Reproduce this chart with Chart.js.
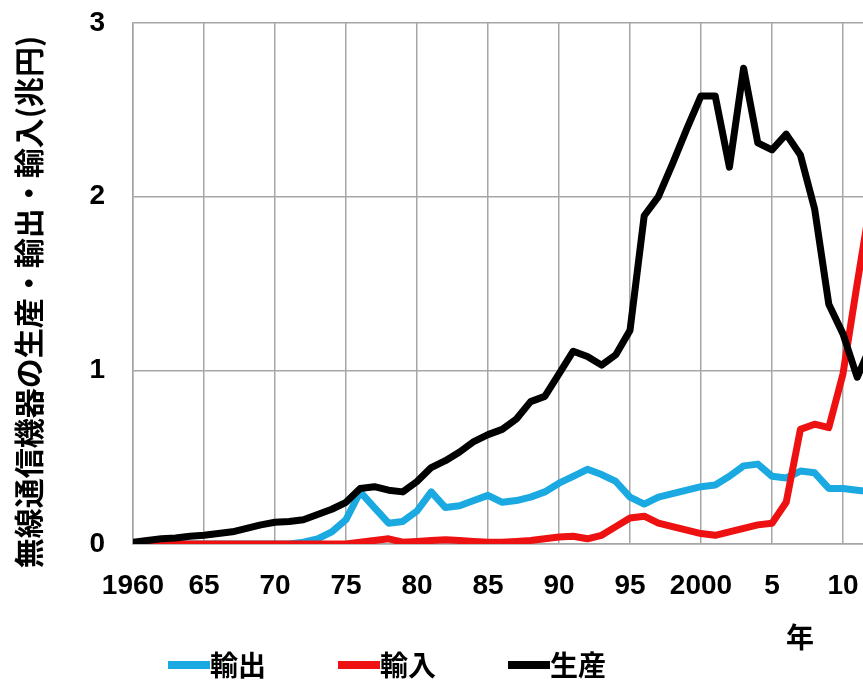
<!DOCTYPE html>
<html lang="ja">
<head>
<meta charset="utf-8">
<title>無線通信機器の生産・輸出・輸入</title>
<script src="https://cdn.jsdelivr.net/npm/chart.js@4/dist/chart.umd.min.js"></script>
<style>
  html, body { margin: 0; padding: 0; background: #fff; overflow: hidden; }
  #wrap { width: 863px; height: 681px; overflow: hidden; }
</style>
</head>
<body>
<div id="wrap"><canvas id="chart" width="934" height="681"></canvas></div>
<script>
// years on the x axis
const years = [
  1960, 1961, 1962, 1963, 1964, 1965, 1966, 1967, 1968, 1969,
  1970, 1971, 1972, 1973, 1974, 1975, 1976, 1977, 1978, 1979,
  1980, 1981, 1982, 1983, 1984, 1985, 1986, 1987, 1988, 1989,
  1990, 1991, 1992, 1993, 1994, 1995, 1996, 1997, 1998, 1999,
  2000, 2001, 2002, 2003, 2004, 2005, 2006, 2007, 2008, 2009,
  2010, 2011, 2012
];

// 輸出 (兆円)
const exportVals = [
  0, 0, 0, 0, 0, 0, 0, 0, 0, 0,
  0, 0, 0.01, 0.03, 0.07, 0.14, 0.30, 0.21, 0.12, 0.13,
  0.19, 0.30, 0.21, 0.22, 0.25, 0.28, 0.24, 0.25, 0.27, 0.30,
  0.35, 0.39, 0.43, 0.40, 0.36, 0.27, 0.23, 0.27, 0.29, 0.31,
  0.33, 0.34, 0.39, 0.45, 0.46, 0.39, 0.38, 0.42, 0.41, 0.32,
  0.32, 0.31, 0.30
];

// 輸入 (兆円)
const importVals = [
  0, 0, 0, 0, 0, 0, 0, 0, 0, 0,
  0, 0, 0, 0, 0, 0, 0.01, 0.02, 0.03, 0.01,
  0.015, 0.02, 0.025, 0.02, 0.015, 0.01, 0.01, 0.015, 0.02, 0.03,
  0.04, 0.045, 0.03, 0.05, 0.10, 0.15, 0.16, 0.12, 0.10, 0.08,
  0.06, 0.05, 0.07, 0.09, 0.11, 0.12, 0.24, 0.66, 0.69, 0.67,
  0.98, 1.50, 2.00
];

// 生産 (兆円)
const productionVals = [
  0.01, 0.02, 0.03, 0.035, 0.045, 0.05, 0.06, 0.07, 0.09, 0.11,
  0.125, 0.13, 0.14, 0.17, 0.20, 0.24, 0.32, 0.33, 0.31, 0.30,
  0.36, 0.44, 0.48, 0.53, 0.59, 0.63, 0.66, 0.72, 0.82, 0.85,
  0.98, 1.11, 1.08, 1.03, 1.09, 1.23, 1.89, 2.00, 2.19, 2.39,
  2.58, 2.58, 2.17, 2.74, 2.31, 2.27, 2.36, 2.24, 1.93, 1.38,
  1.21, 0.96, 1.15
];

// x tick positions and their labels
const xTickYears = [1960, 1965, 1970, 1975, 1980, 1985, 1990, 1995, 2000, 2005, 2010, 2015];
const xTickLabels = ['1960', '65', '70', '75', '80', '85', '90', '95', '2000', '5', '10', '15'];
const yTicks = [0, 1, 2, 3];

const yTitle = '無線通信機器の生産・輸出・輸入(兆円)';
const xTitle = '年';

const fontFamily = "'Liberation Sans', 'Noto Sans CJK JP', sans-serif";
const jpFont = "'Noto Sans CJK JP', sans-serif";
const gridColor = '#a6a6a6';

const toPoints = vals => vals.map((v, i) => ({ x: years[i], y: v }));

// axis titles and legend drawn straight onto the canvas
const extraText = {
  id: 'extraText',
  afterDraw(chart) {
    const ctx = chart.ctx;
    ctx.save();
    ctx.fillStyle = '#000';
    ctx.textBaseline = 'middle';
    ctx.textAlign = 'center';

    ctx.font = 'bold 28px ' + jpFont;
    ctx.fillText(xTitle, 800, 637);

    ctx.save();
    ctx.translate(29, 302);
    ctx.rotate(-Math.PI / 2);
    ctx.font = 'bold 30px ' + jpFont;
    ctx.fillText(yTitle, 0, 0);
    ctx.restore();

    let x = 168;
    chart.data.datasets.forEach(ds => {
      ctx.fillStyle = ds.borderColor;
      ctx.fillRect(x, 661, 42, 8);
      ctx.fillStyle = '#000';
      ctx.textAlign = 'left';
      ctx.fillText(ds.label, x + 42, 665);
      x += 170;
    });
    ctx.restore();
  }
};

new Chart(document.getElementById('chart'), {
  type: 'line',
  data: {
    datasets: [
      { label: '輸出', data: toPoints(exportVals), borderColor: '#1ba9e1', order: 3 },
      { label: '輸入', data: toPoints(importVals), borderColor: '#ee1111', order: 2 },
      { label: '生産', data: toPoints(productionVals), borderColor: '#000000', order: 1 }
    ]
  },
  options: {
    responsive: false,
    animation: false,
    layout: { padding: { top: 23, right: 20, left: 0, bottom: 0 } },
    elements: {
      point: { radius: 0 },
      line: { borderWidth: 7, tension: 0, borderJoinStyle: 'round', fill: false }
    },
    plugins: {
      legend: { display: false },
      tooltip: { enabled: false }
    },
    scales: {
      x: {
        type: 'linear',
        min: 1960,
        max: 2015,
        afterFit: s => { s.height = 137; },
        afterBuildTicks: s => { s.ticks = xTickYears.map(v => ({ value: v })); },
        // invisible tick marks keep the labels clear of the axis
        grid: { color: gridColor, lineWidth: 1.5, drawTicks: true, tickLength: 25, tickColor: 'rgba(0,0,0,0)' },
        border: { color: gridColor, width: 1.5 },
        ticks: {
          padding: 0,
          maxRotation: 0,
          autoSkip: false,
          color: '#000',
          font: { family: fontFamily, size: 28, weight: 'bold' },
          callback: v => xTickLabels[xTickYears.indexOf(v)]
        }
      },
      y: {
        min: 0,
        max: 3,
        afterFit: s => { s.width = 133; },
        afterBuildTicks: s => { s.ticks = yTicks.map(v => ({ value: v })); },
        grid: { color: gridColor, lineWidth: 1.5, drawTicks: true, tickLength: 28, tickColor: 'rgba(0,0,0,0)' },
        border: { color: gridColor, width: 1.5 },
        ticks: {
          padding: 0,
          color: '#000',
          font: { family: fontFamily, size: 28, weight: 'bold' }
        }
      }
    }
  },
  plugins: [extraText]
});
</script>
</body>
</html>
